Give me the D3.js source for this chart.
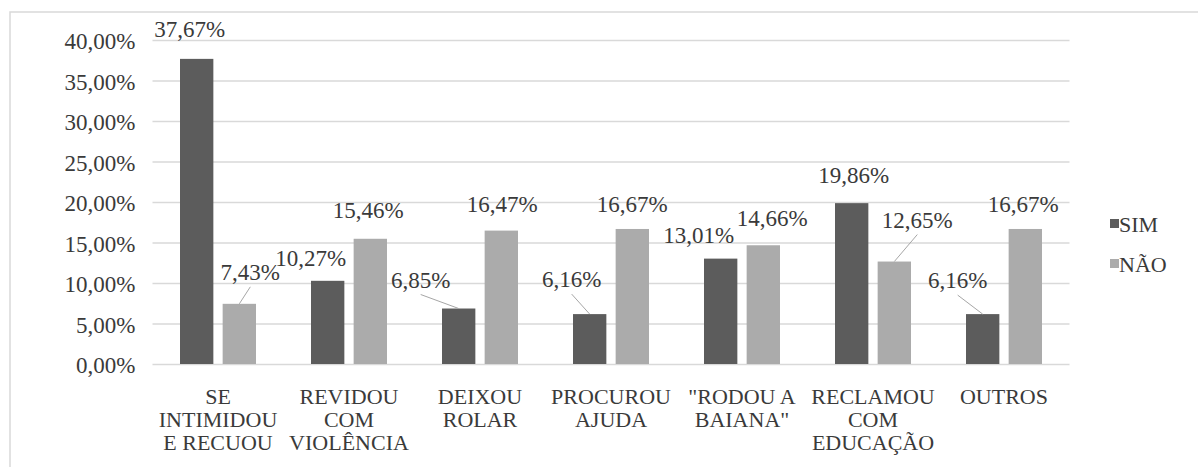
<!DOCTYPE html>
<meta charset="utf-8" />
<head>
  <style>
    body { margin: 0; background: #fff; }
    svg text { fill: #3a3a3a; }
    .grid line { stroke: #d9d9d9; stroke-width: 1.5; }
    .grid .domain { display: none; }
    .leader { stroke: #a6a6a6; stroke-width: 1; }
  </style>
  <script src="https://d3js.org/d3.v7.min.js"></script>
</head>
<body>
  <svg width="1198" height="467"></svg>
  <script>
    // data
    const categories = [
      "SE INTIMIDOU E RECUOU",
      "REVIDOU COM VIOLÊNCIA",
      "DEIXOU ROLAR",
      "PROCUROU AJUDA",
      "\"RODOU A BAIANA\"",
      "RECLAMOU COM EDUCAÇÃO",
      "OUTROS"
    ];
    const categoryLines = [
      ["SE", "INTIMIDOU", "E RECUOU"],
      ["REVIDOU", "COM", "VIOLÊNCIA"],
      ["DEIXOU", "ROLAR"],
      ["PROCUROU", "AJUDA"],
      ["\"RODOU A", "BAIANA\""],
      ["RECLAMOU", "COM", "EDUCAÇÃO"],
      ["OUTROS"]
    ];
    const seriesNames = ["SIM", "NÃO"];
    const sim = [37.67, 10.27, 6.85, 6.16, 13.01, 19.86, 6.16];
    const nao = [7.43, 15.46, 16.47, 16.67, 14.66, 12.65, 16.67];
    const yTicks = [0, 5, 10, 15, 20, 25, 30, 35, 40];

    // label nudges (dx, dy from bar top) and whether a leader line is drawn
    const labelPos = {
      "SIM": [[-7, -22, 0], [-17, -15, 0], [-38, -21, 1], [-18, -27, 1], [-22, -16, 0], [2, -20, 0], [-25, -26, 1]],
      "NÃO": [[11, -24, 1], [-2, -21, 0], [1, -19, 0], [0, -17, 0], [9, -19, 0], [23, -34, 1], [-2, -17, 0]]
    };

    const colors = { "SIM": "#5c5c5c", "NÃO": "#ababab" };
    const serif = "'Liberation Serif', 'DejaVu Serif', serif";

    const svg = d3.select("svg");
    const plotLeft = 152.5, plotRight = 1069.5, plotTop = 40, plotBottom = 364;

    const pt = d3.formatLocale({ decimal: ",", thousands: ".", grouping: [3], currency: ["R$", ""] });
    const fmt = v => pt.format(".2f")(v) + "%";

    // chart border
    svg.append("rect")
      .attr("x", 10).attr("y", 12)
      .attr("width", 1300).attr("height", 600)
      .attr("fill", "none").attr("stroke", "#d9d9d9").attr("stroke-width", 1.5);

    const x0 = d3.scaleBand().domain(categories).range([plotLeft, plotRight]).padding(0);
    const x1 = d3.scaleBand().domain(seriesNames)
      .range([(x0.bandwidth() - 76) / 2, (x0.bandwidth() + 76) / 2])
      .paddingInner(0.218);
    const y = d3.scaleLinear().domain([0, 40]).range([plotBottom, plotTop]);

    const grid = svg.append("g")
      .attr("class", "grid")
      .attr("transform", "translate(" + plotLeft + ",0)")
      .call(d3.axisLeft(y).tickValues(yTicks).tickSize(-(plotRight - plotLeft)).tickFormat(fmt).tickPadding(17));
    grid.attr("font-family", serif).attr("font-size", 23);
    grid.selectAll("text")
      .attr("dy", "0.38em");

    const data = [];
    categories.forEach((c, i) => {
      data.push({ cat: c, i: i, s: "SIM", v: sim[i] });
      data.push({ cat: c, i: i, s: "NÃO", v: nao[i] });
    });

    svg.append("g").selectAll("rect")
      .data(data)
      .enter()
      .append("rect")
      .attr("x", d => x0(d.cat) + x1(d.s))
      .attr("y", d => y(d.v))
      .attr("width", x1.bandwidth())
      .attr("height", d => y(0) - y(d.v))
      .attr("fill", d => colors[d.s]);

    // data labels
    const lab = svg.append("g").attr("font-family", serif).attr("font-size", 23);
    data.forEach(d => {
      const p = labelPos[d.s][d.i];
      const cx = x0(d.cat) + x1(d.s) + x1.bandwidth() / 2;
      const barTop = y(d.v);
      const lx = cx + p[0], ly = barTop + p[1];
      if (p[2]) {
        lab.append("line").attr("class", "leader")
          .attr("x1", lx).attr("y1", ly + 7)
          .attr("x2", cx).attr("y2", barTop);
      }
      lab.append("text")
        .attr("x", lx).attr("y", ly)
        .attr("text-anchor", "middle")
        .text(fmt(d.v));
    });

    // category labels
    const cats = svg.append("g").attr("font-family", serif).attr("font-size", 22);
    categories.forEach((c, i) => {
      const t = cats.append("text")
        .attr("text-anchor", "middle");
      categoryLines[i].forEach((line, j) => {
        t.append("tspan")
          .attr("x", x0(c) + x0.bandwidth() / 2)
          .attr("y", 404 + j * 23)
          .text(line);
      });
    });

    // legend
    const legend = svg.append("g").attr("transform", "translate(1110,0)")
      .attr("font-family", serif).attr("font-size", 22);
    seriesNames.forEach((s, i) => {
      const ly = 224 + i * 40;
      legend.append("rect")
        .attr("x", 0).attr("y", ly - 5)
        .attr("width", 9).attr("height", 9)
        .attr("fill", colors[s]);
      legend.append("text")
        .attr("x", 9).attr("y", ly)
        .attr("dy", "0.35em")
        .text(s);
    });
  </script>
</body>
